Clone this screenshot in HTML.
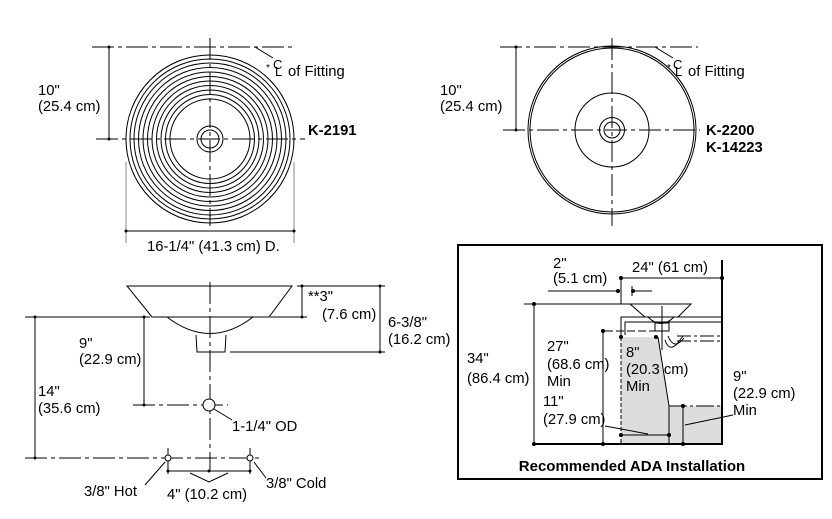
<!DOCTYPE html>
<html><head><meta charset="utf-8"><style>
html,body{margin:0;padding:0;background:#fff;}
svg{display:block;}
text{font-family:"Liberation Sans",Arial,sans-serif;font-size:14.8px;fill:#000;}
.b{font-weight:bold;}
</style></head><body>
<svg width="832" height="519" viewBox="0 0 832 519" xmlns="http://www.w3.org/2000/svg">
<g fill="none" stroke="#000" stroke-width="1">
<circle cx="210" cy="139" r="84"/><circle cx="210" cy="139" r="80"/><circle cx="210" cy="139" r="76"/>
<circle cx="210" cy="139" r="71.5"/><circle cx="210" cy="139" r="67"/><circle cx="210" cy="139" r="62.5"/>
<circle cx="210" cy="139" r="58"/><circle cx="210" cy="139" r="53.5"/><circle cx="210" cy="139" r="49"/>
<circle cx="210" cy="139" r="44.5"/><circle cx="210" cy="139" r="40"/>
<circle cx="210" cy="139" r="13"/><circle cx="210" cy="139" r="9"/>
<line x1="92" y1="47" x2="295" y2="47" stroke-dasharray="22,4,4,4"/>
<line x1="96" y1="139" x2="305" y2="139" stroke-dasharray="22,4,4,4"/>
<line x1="210" y1="38" x2="210" y2="226" stroke-dasharray="22,4,4,4"/>
<line x1="109" y1="47" x2="109" y2="139"/>
<line x1="255" y1="47" x2="273" y2="58"/>
<line x1="126" y1="162" x2="126" y2="243" stroke="#888"/>
<line x1="294" y1="162" x2="294" y2="243" stroke="#888"/>
<line x1="126" y1="231" x2="294" y2="231"/>
<circle cx="612" cy="130" r="84"/><circle cx="612" cy="130" r="82"/>
<circle cx="612" cy="130" r="37"/>
<circle cx="612" cy="130" r="12.5"/><circle cx="612" cy="130" r="8"/>
<line x1="500" y1="47" x2="698" y2="47" stroke-dasharray="22,4,4,4"/>
<line x1="503" y1="130" x2="700" y2="130" stroke-dasharray="22,4,4,4"/>
<line x1="612" y1="38" x2="612" y2="226" stroke-dasharray="22,4,4,4"/>
<line x1="516" y1="47" x2="516" y2="130"/>
<line x1="655" y1="47" x2="673" y2="58"/>
<path d="M127,286 L292,286 L269,317 L152,317 Z"/>
<path d="M167,317 Q210,350 253,317"/>
<path d="M196,335 L197,352 L225,352 L226,335"/>
<line x1="210" y1="282" x2="210" y2="470" stroke-dasharray="22,4,4,4"/>
<line x1="297" y1="286" x2="385" y2="286"/>
<line x1="270" y1="317" x2="307" y2="317"/>
<line x1="302" y1="286" x2="302" y2="317"/>
<line x1="230" y1="352" x2="385" y2="352"/>
<line x1="380" y1="286" x2="380" y2="352"/>
<line x1="25" y1="317" x2="150" y2="317"/>
<line x1="144" y1="317" x2="144" y2="405"/>
<line x1="133" y1="405" x2="228" y2="405" stroke-dasharray="22,4,4,4"/>
<line x1="35" y1="317" x2="35" y2="458"/>
<line x1="25" y1="458" x2="260" y2="458" stroke-dasharray="22,4,4,4"/>
<circle cx="209" cy="405" r="6" fill="#fff"/>
<line x1="214" y1="409" x2="232" y2="420"/>
<line x1="168" y1="448" x2="168" y2="474"/><line x1="250" y1="448" x2="250" y2="474"/>
<circle cx="168" cy="458" r="3" fill="#fff"/><circle cx="250" cy="458" r="3" fill="#fff"/>
<line x1="168" y1="471" x2="250" y2="471"/>
<polyline points="190,473 209,482 228,473"/>
<line x1="165" y1="462" x2="145" y2="485"/>
<line x1="254" y1="462" x2="266" y2="478"/>
<rect x="458" y="245" width="364" height="234" stroke-width="2"/>
<path d="M621,337 L658,337 L669,406 L722,406 L722,444 L621,444 Z" fill="#ddd" stroke="none"/>
<line x1="722" y1="260" x2="722" y2="445" stroke-width="2"/>
<line x1="533" y1="444" x2="722" y2="444" stroke-width="2"/>
<line x1="621" y1="337" x2="621" y2="444" stroke-dasharray="4,2"/>
<line x1="658" y1="337" x2="669" y2="406"/>
<line x1="669" y1="406" x2="669" y2="444"/>
<line x1="669" y1="406" x2="722" y2="406" stroke-dasharray="18,3,3,3"/>
<line x1="605" y1="331" x2="658" y2="331" stroke-dasharray="8,3"/>
<path d="M630,304 L691,304 L678,317 L645,317 Z"/>
<path d="M648,317 Q661,330 674,317"/>
<rect x="655" y="323" width="14" height="8"/>
<line x1="662" y1="306" x2="662" y2="350"/>
<path d="M621,335 L621,317 L722,317 M625,335 L625,322 L722,322"/>
<path d="M665,340 q4,12 12,4 l6,-8 M668,336 q6,15 16,2"/>
<line x1="677" y1="336" x2="722" y2="336" stroke-dasharray="14,3,3,3"/>
<line x1="677" y1="341" x2="722" y2="341" stroke-dasharray="14,3,3,3"/>
<line x1="621" y1="277" x2="621" y2="304"/>
<line x1="621" y1="278" x2="722" y2="278"/>
<line x1="548" y1="291" x2="618" y2="291"/>
<line x1="633" y1="291" x2="652" y2="291"/>
<line x1="632" y1="286" x2="632" y2="296"/>
<line x1="524" y1="304" x2="630" y2="304"/>
<line x1="534" y1="304" x2="534" y2="444"/>
<line x1="603" y1="331" x2="603" y2="444"/>
<line x1="683" y1="406" x2="683" y2="444"/>
<line x1="621" y1="435" x2="669" y2="435"/>
<line x1="605" y1="426" x2="648" y2="434"/>
<line x1="685" y1="425" x2="733" y2="415"/>
</g>
<g fill="#000">
<circle cx="109" cy="47" r="1.5"/><circle cx="109" cy="139" r="1.5"/>
<circle cx="126" cy="231" r="1.5"/><circle cx="294" cy="231" r="1.5"/>
<circle cx="516" cy="47" r="1.5"/><circle cx="516" cy="130" r="1.5"/>
<circle cx="302" cy="286" r="1.5"/><circle cx="302" cy="317" r="1.5"/>
<circle cx="380" cy="286" r="1.5"/><circle cx="380" cy="352" r="1.5"/>
<circle cx="144" cy="317" r="1.5"/><circle cx="144" cy="405" r="1.5"/>
<circle cx="35" cy="317" r="1.5"/><circle cx="35" cy="458" r="1.5"/>
<circle cx="168" cy="471" r="1.5"/><circle cx="250" cy="471" r="1.5"/><circle cx="209" cy="471" r="1.5"/>
<circle cx="621" cy="278" r="2"/><circle cx="722" cy="278" r="2"/>
<circle cx="618" cy="291" r="2"/><circle cx="633" cy="291" r="2"/>
<circle cx="534" cy="304" r="2"/><circle cx="534" cy="444" r="2"/>
<circle cx="603" cy="331" r="2"/><circle cx="603" cy="444" r="2"/>
<circle cx="621" cy="337" r="2"/><circle cx="656" cy="337" r="2"/>
<circle cx="621" cy="435" r="2"/><circle cx="669" cy="435" r="2"/>
<circle cx="683" cy="406" r="2"/><circle cx="683" cy="444" r="2"/>
</g>
<text x="38" y="95">10"</text><text x="38" y="111">(25.4 cm)</text>
<text x="266" y="71" style="font-size:10px">*</text><text x="273" y="69" style="font-size:13px">C</text><text x="275" y="76" style="font-size:13px">L</text><text x="288" y="76">of Fitting</text>
<text x="308" y="135" class="b">K-2191</text>
<text x="147" y="251">16-1/4" (41.3 cm) D.</text>
<text x="440" y="95">10"</text><text x="440" y="111">(25.4 cm)</text>
<text x="667" y="71" style="font-size:10px">*</text><text x="673" y="69" style="font-size:13px">C</text><text x="675" y="76" style="font-size:13px">L</text><text x="688" y="76">of Fitting</text>
<text x="706" y="135" class="b">K-2200</text><text x="706" y="152" class="b">K-14223</text>
<text x="308" y="301">**3"</text><text x="322" y="319">(7.6 cm)</text>
<text x="388" y="327">6-3/8"</text><text x="388" y="344">(16.2 cm)</text>
<text x="79" y="348">9"</text><text x="79" y="364">(22.9 cm)</text>
<text x="38" y="396">14"</text><text x="38" y="413">(35.6 cm)</text>
<text x="232" y="431">1-1/4" OD</text>
<text x="84" y="496">3/8" Hot</text>
<text x="167" y="499">4" (10.2 cm)</text>
<text x="266" y="488">3/8" Cold</text>
<text x="553" y="268">2"</text><text x="553" y="283">(5.1 cm)</text>
<text x="632" y="272">24" (61 cm)</text>
<text x="467" y="363">34"</text><text x="467" y="383">(86.4 cm)</text>
<text x="547" y="351">27"</text><text x="547" y="369">(68.6 cm)</text><text x="547" y="386">Min</text>
<text x="626" y="357">8"</text><text x="626" y="374">(20.3 cm)</text><text x="626" y="391">Min</text>
<text x="733" y="381">9"</text><text x="733" y="398">(22.9 cm)</text><text x="733" y="415">Min</text>
<text x="543" y="406">11"</text><text x="543" y="424">(27.9 cm)</text>
<text x="632" y="471" class="b" text-anchor="middle" style="font-size:15px">Recommended ADA Installation</text>
</svg>
</body></html>
